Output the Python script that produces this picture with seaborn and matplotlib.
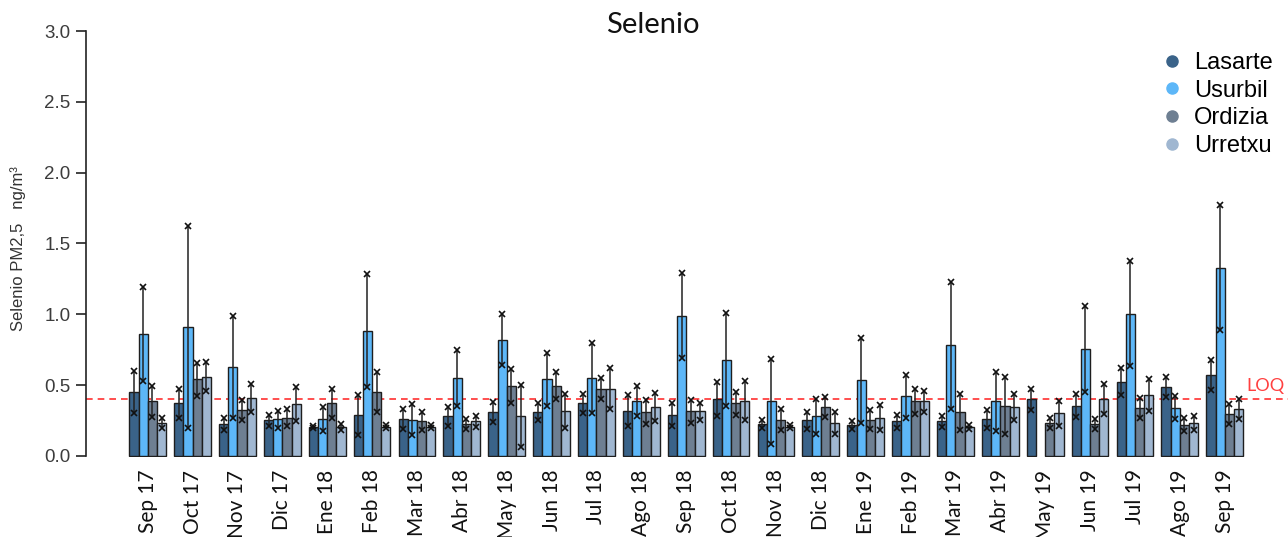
import numpy as np
import pandas as pd
import matplotlib
matplotlib.use("Agg")
import matplotlib.pyplot as plt
from matplotlib.lines import Line2D
import seaborn as sns

months = ["Sep 17", "Oct 17", "Nov 17", "Dic 17", "Ene 18", "Feb 18", "Mar 18", "Abr 18",
          "May 18", "Jun 18", "Jul 18", "Ago 18", "Sep 18", "Oct 18", "Nov 18", "Dic 18",
          "Ene 19", "Feb 19", "Mar 19", "Abr 19", "May 19", "Jun 19", "Jul 19", "Ago 19", "Sep 19"]
sites = ["Lasarte", "Usurbil", "Ordizia", "Urretxu"]

lasarte = [0.45, 0.37, 0.225, 0.25, 0.205, 0.29, 0.26, 0.28, 0.31, 0.31, 0.37, 0.32, 0.29,
           0.40, 0.225, 0.25, 0.22, 0.245, 0.245, 0.26, 0.40, 0.355, 0.525, 0.485, 0.57]
lasarte_err = [0.15, 0.10, 0.04, 0.04, 0.005, 0.14, 0.073, 0.067, 0.07, 0.06, 0.067, 0.11, 0.08,
               0.12, 0.025, 0.06, 0.028, 0.045, 0.04, 0.063, 0.075, 0.08, 0.095, 0.07, 0.105]
usurbil = [0.86, 0.91, 0.625, 0.26, 0.26, 0.885, 0.255, 0.55, 0.82, 0.54, 0.55, 0.385, 0.99,
           0.68, 0.385, 0.28, 0.535, 0.42, 0.78, 0.385, np.nan, 0.755, 1.005, 0.34, 1.33]
usurbil_err = [0.33, 0.71, 0.36, 0.06, 0.085, 0.40, 0.11, 0.20, 0.18, 0.185, 0.245, 0.105, 0.30,
               0.33, 0.30, 0.125, 0.30, 0.15, 0.45, 0.21, np.nan, 0.305, 0.37, 0.08, 0.44]
ordizia = [0.385, 0.54, 0.325, 0.27, 0.37, 0.45, 0.245, 0.225, 0.495, 0.495, 0.475, 0.31, 0.315,
           0.37, 0.255, 0.345, 0.255, 0.385, 0.31, 0.355, 0.235, 0.225, 0.34, 0.22, 0.295]
ordizia_err = [0.11, 0.115, 0.07, 0.06, 0.10, 0.14, 0.065, 0.033, 0.12, 0.095, 0.075, 0.085, 0.08,
               0.083, 0.074, 0.073, 0.068, 0.09, 0.13, 0.20, 0.035, 0.033, 0.07, 0.045, 0.07]
urretxu = [0.23, 0.56, 0.41, 0.365, 0.205, 0.205, 0.205, 0.245, 0.28, 0.32, 0.475, 0.345, 0.315,
           0.39, 0.205, 0.235, 0.27, 0.385, 0.205, 0.345, 0.30, 0.40, 0.43, 0.23, 0.33]
urretxu_err = [0.035, 0.10, 0.10, 0.12, 0.02, 0.01, 0.01, 0.04, 0.22, 0.12, 0.145, 0.10, 0.06,
               0.14, 0.01, 0.078, 0.087, 0.073, 0.015, 0.09, 0.088, 0.105, 0.113, 0.05, 0.07]
loq = 0.4

colors = ["#3A6389", "#5DB7F8", "#6E7F92", "#A0B7D1"]

means = [lasarte, usurbil, ordizia, urretxu]
errs = [lasarte_err, usurbil_err, ordizia_err, urretxu_err]

df = pd.DataFrame({
    "Mes": np.tile(months, 4),
    "Sitio": np.repeat(sites, len(months)),
    "valor": np.concatenate([np.array(m, dtype=float) for m in means]),
})

sns.set_style("white")
plt.rcParams["font.family"] = ["Liberation Sans", "DejaVu Sans"]

fig = plt.figure(figsize=(12.88, 5.37), dpi=100)
ax = fig.add_axes([86/1288, 80/537, 1202/1288, 426/537])

width = 0.82
sns.barplot(data=df, x="Mes", y="valor", hue="Sitio", order=months, hue_order=sites,
            palette=colors, width=width, edgecolor="#1e1e1e", linewidth=1.0,
            errorbar=None, dodge=True, legend=False, saturation=1, ax=ax, zorder=2)

bw = width / 4
xs = np.arange(len(months))
for i, (m, e) in enumerate(zip(means, errs)):
    m = np.array(m, dtype=float)
    e = np.array(e, dtype=float)
    x = xs + (i - 1.5) * bw
    ax.errorbar(x, m, yerr=e, fmt="none", ecolor="#222222", elinewidth=1.1, capsize=0, zorder=3)
    ax.plot(x, m + e, linestyle="none", marker="x", ms=4, mew=1.2, color="#111111", zorder=4)
    ax.plot(x, m - e, linestyle="none", marker="x", ms=4, mew=1.2, color="#111111", zorder=4)

ax.axhline(loq, color="#FF3030", linestyle=(0, (4, 3)), linewidth=1.2, zorder=1, clip_on=False)
ax.text((1265 - 86) / 1202, loq + 0.09, "LOQ", transform=ax.get_yaxis_transform(),
        ha="center", va="center", color="#FF4040", fontsize=13, family=["Lato", "DejaVu Sans"])

ax.set_xlim(-1.375, 25.41)
ax.set_ylim(-0.008, 3.0)
ax.set_yticks(np.arange(0, 3.01, 0.5))
ax.set_yticklabels([f"{v:.1f}" for v in np.arange(0, 3.01, 0.5)])
for s in ["top", "right", "bottom"]:
    ax.spines[s].set_visible(False)
ax.spines["left"].set_bounds(0, 3.0)
ax.spines["left"].set_linewidth(1.2)
ax.spines["left"].set_color("#222222")
ax.tick_params(axis="y", length=7, width=1.2, color="#222222", labelsize=13.5,
               labelcolor="#3c3c3c", pad=4, left=True)
ax.tick_params(axis="x", length=0, pad=9)
ax.set_xticks(xs)
ax.set_xticklabels(months, rotation=90, fontsize=15, family=["Lato", "DejaVu Sans"], color="#111111")
ax.set_xlabel("")
ax.set_ylabel("Selenio PM2,5   ng/m³", fontsize=12, color="#333333")
ax.yaxis.set_label_coords((26 - 86) / 1202, 0.49)

fig.text(653 / 1288, 1 - 25 / 537, "Selenio", ha="center", va="center", fontsize=21,
         family=["Lato", "DejaVu Sans"], color="#111111")

handles = [Line2D([0], [0], marker="o", linestyle="none", markersize=8, markerfacecolor=c,
                  markeredgecolor=c) for c in colors]
fig.legend(handles, sites, loc="upper left", bbox_to_anchor=(1160 / 1288, 1 - 52 / 537),
           frameon=False, fontsize=17, borderaxespad=0, borderpad=0, handlelength=1.0,
           handletextpad=0.45, labelspacing=0.24, labelcolor="#000000")

fig.savefig("out.png", dpi=100)
